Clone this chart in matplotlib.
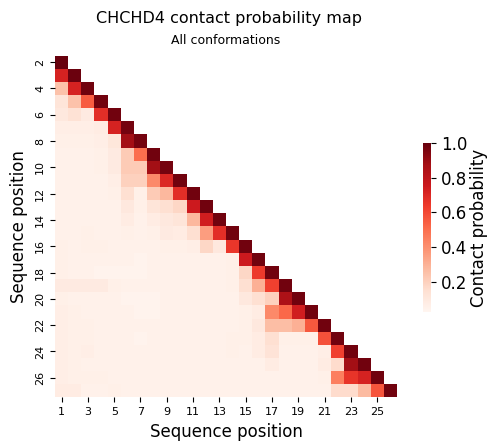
import numpy as np
import pandas as pd
import matplotlib
matplotlib.use("Agg")
import matplotlib.pyplot as plt
import seaborn as sns

# 序列位置
row_pos = list(range(2, 28))
col_pos = list(range(1, 27))

# 下三角接觸機率 (每列從第1欄到對角線)
contact_rows = [
    [1.00],
    [0.72, 0.99],
    [0.25, 0.72, 0.98],
    [0.12, 0.25, 0.55, 0.98],
    [0.10, 0.14, 0.09, 0.68, 0.98],
    [0.07, 0.07, 0.07, 0.08, 0.72, 0.97],
    [0.06, 0.06, 0.06, 0.07, 0.11, 0.88, 0.97],
    [0.05, 0.05, 0.05, 0.06, 0.09, 0.22, 0.50, 0.98],
    [0.05, 0.05, 0.05, 0.06, 0.09, 0.22, 0.22, 0.88, 0.97],
    [0.05, 0.05, 0.05, 0.05, 0.07, 0.20, 0.20, 0.42, 0.70, 0.98],
    [0.05, 0.05, 0.05, 0.05, 0.06, 0.15, 0.06, 0.22, 0.28, 0.68, 0.98],
    [0.05, 0.05, 0.05, 0.05, 0.05, 0.10, 0.06, 0.12, 0.15, 0.18, 0.75, 0.98],
    [0.05, 0.05, 0.05, 0.05, 0.05, 0.08, 0.05, 0.08, 0.10, 0.12, 0.28, 0.74, 0.98],
    [0.05, 0.05, 0.06, 0.05, 0.05, 0.06, 0.05, 0.06, 0.09, 0.08, 0.15, 0.36, 0.68, 0.98],
    [0.06, 0.05, 0.06, 0.06, 0.05, 0.05, 0.05, 0.05, 0.06, 0.06, 0.07, 0.18, 0.10, 0.65, 0.98],
    [0.06, 0.05, 0.05, 0.05, 0.05, 0.05, 0.04, 0.05, 0.05, 0.05, 0.05, 0.05, 0.05, 0.06, 0.75, 0.98],
    [0.06, 0.05, 0.05, 0.04, 0.04, 0.04, 0.04, 0.05, 0.05, 0.05, 0.05, 0.05, 0.05, 0.06, 0.18, 0.64, 0.98],
    [0.09, 0.09, 0.09, 0.09, 0.06, 0.05, 0.05, 0.05, 0.05, 0.05, 0.05, 0.05, 0.05, 0.06, 0.15, 0.30, 0.62, 0.98],
    [0.06, 0.05, 0.05, 0.05, 0.05, 0.04, 0.04, 0.04, 0.05, 0.05, 0.05, 0.05, 0.05, 0.05, 0.10, 0.15, 0.20, 0.85, 0.98],
    [0.07, 0.06, 0.05, 0.05, 0.05, 0.05, 0.04, 0.04, 0.05, 0.05, 0.05, 0.05, 0.05, 0.05, 0.06, 0.08, 0.42, 0.52, 0.74, 0.98],
    [0.07, 0.06, 0.06, 0.05, 0.05, 0.05, 0.05, 0.05, 0.05, 0.05, 0.05, 0.05, 0.05, 0.05, 0.06, 0.10, 0.26, 0.26, 0.30, 0.56, 0.98],
    [0.07, 0.06, 0.06, 0.05, 0.05, 0.05, 0.04, 0.05, 0.05, 0.05, 0.05, 0.05, 0.05, 0.06, 0.06, 0.08, 0.15, 0.06, 0.06, 0.06, 0.58, 0.98],
    [0.07, 0.06, 0.07, 0.05, 0.05, 0.05, 0.05, 0.05, 0.05, 0.05, 0.05, 0.05, 0.05, 0.06, 0.05, 0.08, 0.13, 0.05, 0.05, 0.05, 0.07, 0.62, 0.98],
    [0.07, 0.06, 0.05, 0.05, 0.05, 0.05, 0.05, 0.05, 0.05, 0.05, 0.05, 0.05, 0.05, 0.05, 0.05, 0.05, 0.08, 0.05, 0.05, 0.05, 0.08, 0.16, 0.88, 0.98],
    [0.07, 0.06, 0.06, 0.06, 0.05, 0.05, 0.05, 0.05, 0.05, 0.05, 0.05, 0.05, 0.05, 0.05, 0.05, 0.05, 0.05, 0.05, 0.05, 0.05, 0.06, 0.45, 0.66, 0.72, 0.98],
    [0.08, 0.08, 0.05, 0.05, 0.06, 0.05, 0.05, 0.05, 0.05, 0.05, 0.05, 0.05, 0.05, 0.05, 0.05, 0.05, 0.05, 0.05, 0.05, 0.05, 0.05, 0.16, 0.16, 0.27, 0.57, 0.98],
]

n = len(row_pos)
mat = np.full((n, len(col_pos)), np.nan)
for i, row in enumerate(contact_rows):
    mat[i, :len(row)] = row
df = pd.DataFrame(mat, index=row_pos, columns=col_pos)
mask = np.isnan(mat)

fig = plt.figure(figsize=(4.89, 4.41), dpi=100)
ax = fig.add_axes([55 / 489, 1 - 398 / 441, 342 / 489, 343 / 441])
cax = fig.add_axes([423 / 489, 1 - 312 / 441, 8 / 489, 169 / 441])

sns.heatmap(df, mask=mask, cmap="Reds", vmin=0.026, vmax=1.0, square=True,
            ax=ax, cbar_ax=cax, xticklabels=2, yticklabels=2,
            cbar_kws={"label": "Contact probability"})

ax.tick_params(axis="both", labelsize=8)
plt.setp(ax.get_yticklabels(), rotation=90, va="center")
plt.setp(ax.get_xticklabels(), rotation=0)
ax.set_xlabel("Sequence position", fontsize=12, labelpad=4)
ax.set_ylabel("Sequence position", fontsize=12, labelpad=5)
ax.set_title("All conformations", fontsize=9, pad=8)
fig.suptitle("CHCHD4 contact probability map", fontsize=11.5, x=229 / 489, y=0.975)

cax.set_yticks([0.2, 0.4, 0.6, 0.8, 1.0])
cax.tick_params(labelsize=12)
cax.set_ylabel("Contact probability", fontsize=12, labelpad=2)

fig.savefig("out.png", dpi=100)
